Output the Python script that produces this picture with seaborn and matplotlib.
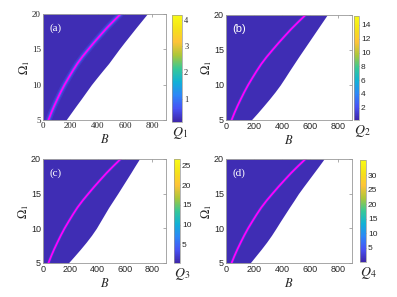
import numpy as np
import pandas as pd
import matplotlib
matplotlib.use("Agg")
import matplotlib.pyplot as plt
from matplotlib.colors import LinearSegmentedColormap, Normalize
from matplotlib.cm import ScalarMappable
import seaborn as sns

# data
omega_pts = [5, 6, 7, 8, 9, 10, 11, 12, 13, 14, 15, 16, 17, 18, 19, 20]
curve_b = [40, 60, 82, 106, 131, 158, 188, 219, 252, 290, 332, 375, 420, 466, 516, 568]   # magenta curve
# right edge of the filled region, per panel
edge_b_a = [168, 205, 242, 280, 317, 354, 395, 437, 480, 518, 556, 596, 637, 678, 720, 762]
edge_b_b = [180, 225, 268, 310, 350, 387, 420, 452, 485, 518, 552, 586, 620, 654, 688, 722]
edge_b_c = [185, 230, 274, 316, 355, 390, 420, 450, 480, 513, 546, 578, 610, 642, 673, 705]
edge_b_d = [172, 212, 252, 290, 325, 357, 388, 420, 452, 485, 517, 553, 590, 627, 664, 700]
q_min = [0.1, 0.2, 0.3, 0.1]
q_max = [4.2, 15.3, 26.6, 35.2]
q_ticks_a = [1, 2, 3, 4]
q_ticks_b = [2, 4, 6, 8, 10, 12, 14]
q_ticks_c = [5, 10, 15, 20, 25]
q_ticks_d = [5, 10, 15, 20, 25, 30]
panel_tags = ["(a)", "(b)", "(c)", "(d)"]
q_labels = [r"$Q_1$", r"$Q_2$", r"$Q_3$", r"$Q_4$"]

sns.set_style("white")
plt.rcParams["mathtext.fontset"] = "stix"
plt.rcParams["font.family"] = ["DejaVu Sans"]

# parula-like colormap
parula = LinearSegmentedColormap.from_list("parula", [
    (0.2422, 0.1504, 0.6603), (0.2810, 0.3228, 0.9579), (0.1786, 0.5289, 0.9682),
    (0.0689, 0.6948, 0.8394), (0.2161, 0.7843, 0.5923), (0.6720, 0.7793, 0.2227),
    (0.9970, 0.7659, 0.2199), (0.9598, 0.8870, 0.100), (0.9769, 0.9839, 0.0805)])

W, H = 397, 297
fig = plt.figure(figsize=(W / 100, H / 100), dpi=100)

def box(l, r, t, b):
    return [l / W, 1 - b / H, (r - l) / W, (b - t) / H]

ax_pos = [box(43, 166, 14, 120), box(226, 352, 15, 120),
          box(43, 166, 159, 263), box(226, 352, 159, 263)]
cb_pos = [box(172, 182, 15, 122), box(354, 359, 16, 120),
          box(174, 180, 159, 263), box(360, 366, 160, 262)]
edges = [edge_b_a, edge_b_b, edge_b_c, edge_b_d]
q_ticks = [q_ticks_a, q_ticks_b, q_ticks_c, q_ticks_d]
serif_ticks = [True, False, False, False]
serif_tag = [True, False, True, True]

for i in range(4):
    ax = fig.add_axes(ax_pos[i])
    fill = parula(0.02)
    ax.fill_betweenx(omega_pts, 0, edges[i], color=fill, lw=0)
    df = pd.DataFrame({"B": curve_b, "Omega": omega_pts})
    # glow around the resonance curve
    if i == 0:
        sns.lineplot(data=df, x="B", y="Omega", ax=ax, color=parula(0.1), lw=4.5, alpha=0.45)
        sns.lineplot(data=df, x="B", y="Omega", ax=ax, color=parula(0.17), lw=2.6, alpha=0.7)
    else:
        sns.lineplot(data=df, x="B", y="Omega", ax=ax, color=parula(0.1), lw=2.4, alpha=0.4)
    sns.lineplot(data=df, x="B", y="Omega", ax=ax, color="#ff00ff", lw=1.3)

    ax.set_xlim(0, 900)
    ax.set_ylim(5, 20)
    ax.set_xticks([0, 200, 400, 600, 800])
    ax.set_yticks([5, 10, 15, 20])
    tfam = ["Liberation Serif"] if serif_ticks[i] else ["Liberation Sans"]
    ax.tick_params(direction="in", length=2, width=0.5, colors="0.55", labelcolor="0.15",
                   labelsize=6.5, pad=1.5, top=True, right=True)
    for lab in ax.get_xticklabels() + ax.get_yticklabels():
        lab.set_family(tfam)
    for s in ax.spines.values():
        s.set_color("0.6")
        s.set_linewidth(0.6)
    ax.set_xlabel(r"$B$", fontsize=9, labelpad=2, color="0.15")
    ax.set_ylabel(r"$\mathit{\Omega}_1$", fontsize=9, labelpad=0, color="0.15")
    ax.text(0.05, 0.91, panel_tags[i], transform=ax.transAxes, color="white", va="top",
            fontsize=8, family=["Liberation Serif"] if serif_tag[i] else ["Liberation Sans"])

    cax = fig.add_axes(cb_pos[i])
    sm = ScalarMappable(norm=Normalize(q_min[i], q_max[i]), cmap=parula)
    cb = fig.colorbar(sm, cax=cax, ticks=q_ticks[i])
    cb.outline.set_edgecolor("0.6")
    cb.outline.set_linewidth(0.5)
    cax.tick_params(direction="in", length=1.5, width=0.5, colors="0.55", labelcolor="0.15",
                    labelsize=6, pad=1.5)
    for lab in cax.get_yticklabels():
        lab.set_family(tfam)
    cax.text(0.0, -0.03, q_labels[i], transform=cax.transAxes, fontsize=10,
             ha="left", va="top", color="0.15")

fig.savefig("out.png", dpi=100)
